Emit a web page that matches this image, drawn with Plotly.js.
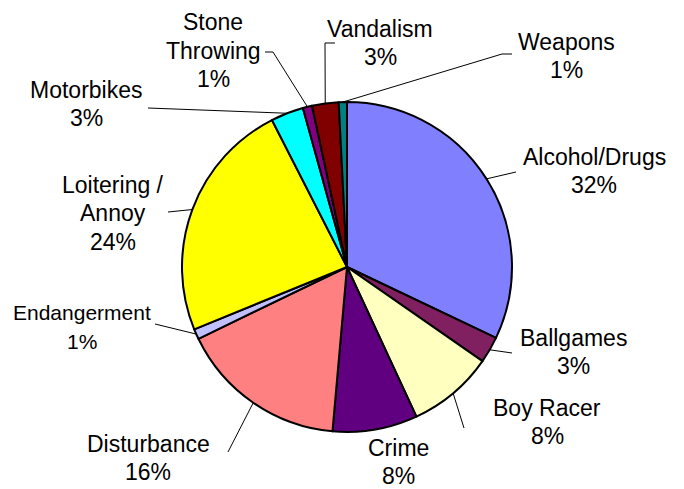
<!DOCTYPE html>
<html>
<head>
<meta charset="utf-8">
<script src="https://cdn.plot.ly/plotly-3.0.1.min.js"></script>
<style>html,body{margin:0;padding:0;background:#fff;}#chart{width:684px;height:489px;}</style>
</head>
<body>
<div id="chart"></div>
<script>
// ---- data ----
const categories = ['Alcohol/Drugs','Ballgames','Boy Racer','Crime','Disturbance','Endangerment','Loitering / Annoy','Motorbikes','Stone Throwing','Vandalism','Weapons'];
const labelLines = [['Alcohol/Drugs'],['Ballgames'],['Boy Racer'],['Crime'],['Disturbance'],['Endangerment'],['Loitering /','Annoy'],['Motorbikes'],['Stone','Throwing'],['Vandalism'],['Weapons']];
const values = [32.0, 2.6, 8.4, 8.3, 16.4, 1.0, 23.6, 3.2, 0.9, 2.6, 0.8];
const colors = ['#8080FF','#802060','#FFFFC0','#600080','#FF8080','#C0C0FF','#FFFF00','#00FFFF','#800080','#800000','#008080'];

// ---- layout geometry (pixels) ----
const W = 684, H = 489;
const CX = 347, CY = 267, R = 165;
const dom = {x:[(CX-R)/W,(CX+R)/W], y:[(H-CY-R)/H,(H-CY+R)/H]};

// label block centres and leader starting points (pixels)
const labelPos = [[594,171],[573,352],[547,422],[398,462],[148,458],[82,327],[113,213],[86,104],[213,51],[380,43],[566,56]];
const labelSize = [23,23,23,23,23,21,23,23,23,23,23];
const linePitch = 28.5;
const leaderStart = [[[516,172]],[[512,353]],[[464,428]],null,[[228,452]],[[155,324]],[[168,212]],[[148,108]],[[265,52],[273,52]],[[335,43],[325,43]],[[512,54],[502,54]]];

const total = values.reduce((a,b)=>a+b,0);
const px = x => x/W, py = y => 1 - y/H;

const annotations = [], shapes = [];
let cum = 0;
values.forEach((v,i)=>{
  const mid = (cum + v/2)/total*2*Math.PI;
  cum += v;
  const tx = CX + R*Math.sin(mid), ty = CY - R*Math.cos(mid);
  const pct = Math.round(v/total*100) + '%';
  const lines = labelLines[i].concat([pct]);
  const y0 = labelPos[i][1] - (lines.length-1)*linePitch/2;
  lines.forEach((t,k)=>{
    annotations.push({
      xref:'paper', yref:'paper', x:px(labelPos[i][0]), y:py(y0 + k*linePitch),
      xanchor:'center', yanchor:'middle', align:'center', showarrow:false,
      text: t, borderpad:0,
      font:{family:'Liberation Sans, Arial, sans-serif', size:labelSize[i], color:'#000'}
    });
  });
  if (leaderStart[i]) {
    const pts = leaderStart[i].concat([[tx,ty]]);
    const path = pts.map((p,k)=>(k?'L':'M')+px(p[0]).toFixed(5)+','+py(p[1]).toFixed(5)).join(' ');
    shapes.push({type:'path', xref:'paper', yref:'paper', path:path, line:{color:'#000', width:1}});
  }
});

const trace = {
  type:'pie', labels:categories, values:values, sort:false, direction:'clockwise', rotation:0,
  marker:{colors:colors, line:{color:'#000', width:2}},
  textinfo:'none', hoverinfo:'label+percent', domain:dom, showlegend:false
};

Plotly.newPlot('chart',[trace],{
  width:W, height:H, margin:{l:0,r:0,t:0,b:0}, paper_bgcolor:'#fff', plot_bgcolor:'#fff',
  showlegend:false, annotations:annotations, shapes:shapes
},{displayModeBar:false, staticPlot:true});
</script>
</body>
</html>
